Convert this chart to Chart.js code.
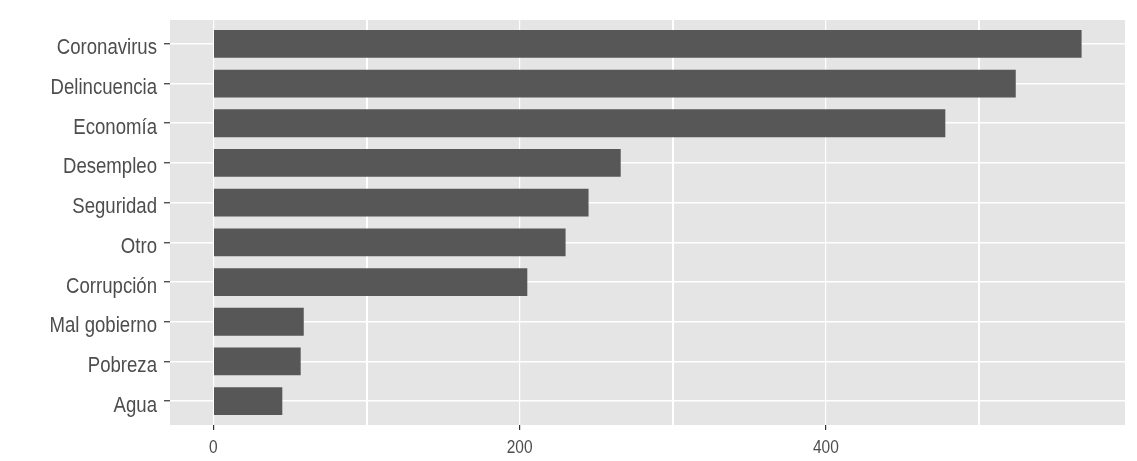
<!DOCTYPE html>
<html lang="es">
    <head>
        <meta charset="utf-8">
        <title> Problemas </title>
        <script src="https://cdn.jsdelivr.net/npm/chart.js@4.4.1/dist/chart.umd.min.js"></script>
        <style>
            html, body { margin: 0; padding: 0; background: #ffffff; }
            #wrap { width: 1137px; height: 461px; position: relative; }
        </style>
    </head>

    <body>
        <div id="wrap"><canvas id="myChart"></canvas></div>

        <script>

            const Categories = ['Coronavirus', 'Delincuencia', 'Economía', 'Desempleo', 'Seguridad',
                                'Otro', 'Corrupción', 'Mal gobierno', 'Pobreza', 'Agua'];
            const Counts = [567, 524, 478, 266, 245, 230, 205, 59, 57, 45];
            const MajorTicks = [0, 200, 400];
            const MinorTicks = [100, 300, 500];

            // no narrow font installed, so labels are squeezed by hand
            const FONT = '"Liberation Sans", Arial, sans-serif';
            const LABEL_COLOR = '#4d4d4d';

            // ggplot style: 5% expansion on x, 0.6 units on discrete y
            const xMax = Math.max (...Counts) * 1.05;
            const xMin = - Math.max (...Counts) * 0.05;

            const panelBackground = {
                id: 'panelBackground',
                beforeDraw (chart) {
                    const { ctx, chartArea: a } = chart;
                    ctx.save ();
                    ctx.fillStyle = '#e5e5e5';
                    ctx.fillRect (a.left, a.top, a.right - a.left, a.bottom - a.top);
                    ctx.restore ();
                }
            };

            const narrowLabels = {
                id: 'narrowLabels',
                afterDraw (chart) {
                    const { ctx, scales: { x, y } } = chart;
                    ctx.save ();
                    ctx.fillStyle = LABEL_COLOR;
                    ctx.textBaseline = 'alphabetic';

                    ctx.font = '22px ' + FONT;
                    ctx.textAlign = 'right';
                    Categories.forEach ((c, i) => {
                        ctx.save ();
                        ctx.translate (y.right - 13, y.getPixelForValue (i) + 10.5);
                        ctx.scale (0.845, 1);
                        ctx.fillText (c, 0, 0);
                        ctx.restore ();
                    });

                    ctx.font = '18px ' + FONT;
                    ctx.textAlign = 'center';
                    MajorTicks.forEach (v => {
                        ctx.save ();
                        ctx.translate (x.getPixelForValue (v), x.top + 28);
                        ctx.scale (0.86, 1);
                        ctx.fillText (String (v), 0, 0);
                        ctx.restore ();
                    });
                    ctx.restore ();
                }
            };

            const chartContext = document.getElementById ('myChart').getContext ('2d');
            const myBarChart = new Chart (chartContext, {
                type: 'bar',
                data: {
                    datasets: [{
                        data: Counts.map ((v, i) => ({ x: v, y: i })),
                        backgroundColor: '#575757',
                        borderWidth: 0,
                        barPercentage: 0.7,
                        categoryPercentage: 1
                    }]
                },
                plugins: [panelBackground, narrowLabels],
                options: {
                    indexAxis: 'y',
                    responsive: true,
                    maintainAspectRatio: false,
                    animation: false,
                    layout: { padding: { left: 0, right: 12, top: 20, bottom: 0 } },
                    plugins: {
                        legend: { display: false },
                        tooltip: { enabled: false }
                    },
                    scales: {
                        x: {
                            type: 'linear',
                            min: xMin,
                            max: xMax,
                            afterBuildTicks: scale => {
                                scale.ticks = [...MajorTicks, ...MinorTicks].sort ((a, b) => a - b)
                                    .map (v => ({ value: v }));
                            },
                            afterFit: scale => { scale.height = 36; },
                            border: { display: false },
                            grid: {
                                color: '#ffffff',
                                lineWidth: ctx => ctx.tick && MajorTicks.includes (ctx.tick.value) ? 1.2 : 2,
                                tickColor: ctx => ctx.tick && MajorTicks.includes (ctx.tick.value) ? '#333333' : 'rgba(0,0,0,0)',
                                tickWidth: 1.2,
                                tickLength: 5
                            },
                            ticks: { display: false }
                        },
                        y: {
                            type: 'linear',
                            reverse: true,
                            offset: false,
                            min: -0.6,
                            max: Categories.length - 1 + 0.6,
                            afterBuildTicks: scale => {
                                scale.ticks = Categories.map ((c, i) => ({ value: i }));
                            },
                            afterFit: scale => { scale.width = 170; },
                            border: { display: false },
                            grid: {
                                offset: false,
                                color: '#ffffff',
                                lineWidth: 1.5,
                                tickColor: '#333333',
                                tickWidth: 1.2,
                                tickLength: 6
                            },
                            ticks: { display: false }
                        }
                    }
                }
            });

        </script>
    </body>
</html>
